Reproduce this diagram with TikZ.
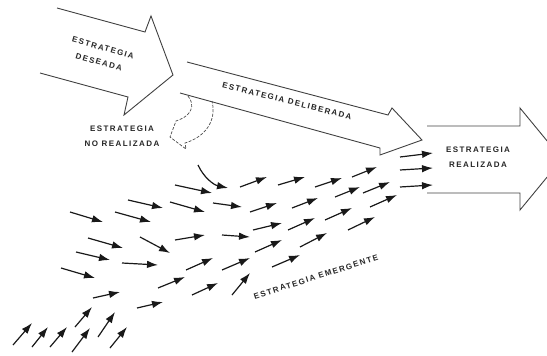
\documentclass[tikz,border=0pt]{standalone}
\usepackage{fontspec}
\usepackage{tikz}
\usetikzlibrary{arrows.meta}
\newfontfamily\lblfont{Liberation Sans}[UprightFont=* Bold, LetterSpace=18]

\begin{document}
\begin{tikzpicture}[x=1pt, y=-1pt, every node/.style={font=\lblfont\fontsize{8}{15}\selectfont, text=black!85, align=center, inner sep=0pt},
  bigarrow/.style={draw=black!75, line width=0.9pt, line join=miter},
  lost/.style={draw=black!70, line width=0.7pt, dash pattern=on 3pt off 1.5pt},
  flow/.style={draw=black!90, line width=1.2pt, -{Latex[length=11pt,width=7.5pt]}}]
  \useasboundingbox (0,0) rectangle (547,356);

  \draw[bigarrow] (57,8) -- (145,32) -- (151,16) -- (173,75) -- (124,115) -- (128,97) -- (40,73);
  \draw[bigarrow] (187,62) -- (388,115) -- (392,108) -- (422,140) -- (380,155) -- (380,148) -- (180,93);
  \draw[bigarrow] (427,126) -- (520,126) -- (520,108) -- (562,159) -- (520,210) -- (520,193) -- (427,193);
  \draw[lost] (188,96) .. controls (196,106) and (190,115) .. (181,119) -- (176,121) -- (170,137) -- (186,149) -- (185,143) .. controls (205,137) and (217,121) .. (212,101);

  \node (deseada) at (101,55) [rotate=-16] {ESTRATEGIA\\DESEADA};
  \node (noreal) at (122,136) {ESTRATEGIA\\NO REALIZADA};
  \node (deliberada) at (287,101) [rotate=-14] {ESTRATEGIA DELIBERADA};
  \node (realizada) at (478,157) {ESTRATEGIA\\REALIZADA};
  \node (emergente) at (316,277) [rotate=17.5] {ESTRATEGIA EMERGENTE};

  \draw[flow] (198,165) .. controls (204,178) and (214,185) .. (228,188);
  \draw[flow] (240,187) -- (267,177); \draw[flow] (278,185) -- (305,177); \draw[flow] (315,187) -- (342,178); \draw[flow] (352,177) -- (377,167);
  \draw[flow] (400,157) -- (433,153); \draw[flow] (400,170) -- (433,168); \draw[flow] (400,187) -- (433,185);
  \draw[flow] (175,185) -- (212,193); \draw[flow] (128,200) -- (163,208); \draw[flow] (170,202) -- (205,212); \draw[flow] (213,203) -- (242,207);
  \draw[flow] (250,212) -- (277,203); \draw[flow] (292,208) -- (318,198); \draw[flow] (335,197) -- (360,187); \draw[flow] (363,193) -- (390,182);
  \draw[flow] (70,212) -- (103,222); \draw[flow] (115,212) -- (151,222); \draw[flow] (88,238) -- (123,248); \draw[flow] (140,237) -- (170,253);
  \draw[flow] (175,240) -- (205,235); \draw[flow] (222,235) -- (250,237); \draw[flow] (253,230) -- (282,223); \draw[flow] (288,230) -- (315,218);
  \draw[flow] (325,220) -- (352,208); \draw[flow] (370,207) -- (397,195);
  \draw[flow] (76,252) -- (110,260); \draw[flow] (122,263) -- (158,265); \draw[flow] (61,268) -- (95,278); \draw[flow] (186,270) -- (213,258);
  \draw[flow] (222,270) -- (250,258); \draw[flow] (255,252) -- (282,240); \draw[flow] (300,247) -- (327,233); \draw[flow] (348,230) -- (375,217);
  \draw[flow] (272,267) -- (300,255); \draw[flow] (158,288) -- (185,277); \draw[flow] (192,295) -- (218,283); \draw[flow] (232,295) -- (250,273);
  \draw[flow] (93,298) -- (120,292); \draw[flow] (137,308) -- (163,302);
  \draw[flow] (75,327) -- (92,307); \draw[flow] (98,337) -- (115,312); \draw[flow] (13,345) -- (32,323); \draw[flow] (32,347) -- (48,327);
  \draw[flow] (50,347) -- (67,327); \draw[flow] (72,352) -- (90,328); \draw[flow] (110,348) -- (127,327);
\end{tikzpicture}
\end{document}
